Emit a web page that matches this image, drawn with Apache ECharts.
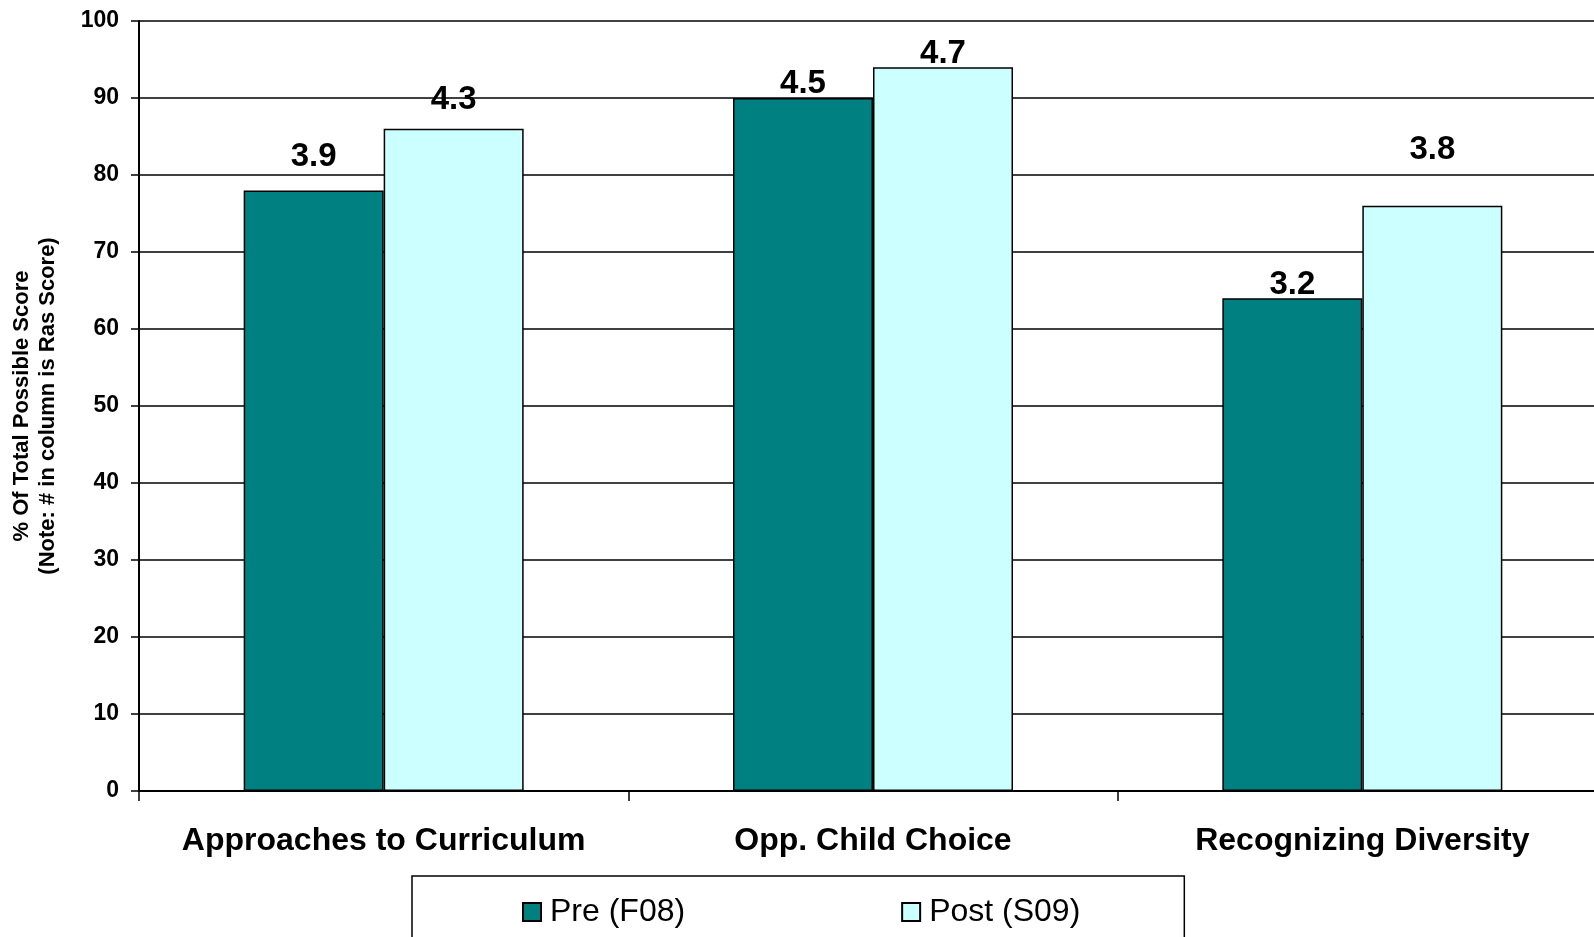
<!DOCTYPE html>
<html>
<head>
<meta charset="utf-8">
<script src="https://cdn.jsdelivr.net/npm/echarts@6/dist/echarts.min.js"></script>
<style>
html,body{margin:0;padding:0;background:#fff;}
#chart{width:1594px;height:937px;}
</style>
</head>
<body>
<div id="chart"></div>
<script>
// ---- data ----
const categories = ['Approaches to Curriculum', 'Opp. Child Choice', 'Recognizing Diversity'];
const seriesNames = ['Pre (F08)', 'Post (S09)'];
const preValues = [78, 90, 64];
const postValues = [86, 94, 76];
const preScores = ['3.9', '4.5', '3.2'];
const postScores = ['4.3', '4.7', '3.8'];
const yAxisTitle = '% Of Total Possible Score\n(Note: # in column is Ras Score)';

// ---- styling ----
const FONT = "'Liberation Sans', Arial, Helvetica, sans-serif";
const preLabelDist = [17, -2, -3];
const postLabelDist = [12, -3, 39];

function buildData(values, scores, dists) {
  return values.map((v, i) => ({
    value: v,
    label: { distance: dists[i], formatter: scores[i] }
  }));
}

const chart = echarts.init(document.getElementById('chart'), null, { renderer: 'canvas' });
const labelStyle = {
  show: true, position: 'top', color: '#000',
  fontFamily: FONT, fontWeight: 'bold', fontSize: 33
};
const option = {
  animation: false,
  backgroundColor: '#fff',
  grid: { left: 139, top: 21, width: 1468, height: 770, outerBoundsMode: 'none', containLabel: false },
  legend: {
    left: 412, top: 876,
    padding: [20, 104, 40, 110],
    borderColor: '#000', borderWidth: 1.5,
    itemGap: 216, itemWidth: 18, itemHeight: 18,
    icon: 'rect',
    textStyle: { fontFamily: FONT, fontSize: 32, color: '#000', padding: [0, 0, 0, 4] },
    data: seriesNames
  },
  xAxis: {
    type: 'category',
    data: categories,
    boundaryGap: true,
    axisLine: { lineStyle: { color: '#000', width: 2 } },
    axisTick: { show: true, length: 10, interval: 0, lineStyle: { color: '#000', width: 1.5 } },
    axisLabel: { margin: 34, interval: 0, color: '#000', fontFamily: FONT, fontWeight: 'bold', fontSize: 32 },
    splitLine: { show: false }
  },
  yAxis: {
    type: 'value',
    min: 0, max: 100, interval: 10,
    name: yAxisTitle,
    nameLocation: 'middle',
    nameGap: 78,
    nameTextStyle: { fontFamily: FONT, fontWeight: 'bold', fontSize: 22, lineHeight: 26, color: '#000', align: 'center' },
    axisLine: { show: true, lineStyle: { color: '#000', width: 2 } },
    axisTick: { show: true, length: 8, lineStyle: { color: '#000', width: 1.5 } },
    axisLabel: { margin: 20, color: '#000', fontFamily: FONT, fontWeight: 'bold', fontSize: 23 },
    splitLine: { show: true, lineStyle: { color: '#000', width: 1.5 } }
  },
  series: [
    {
      name: seriesNames[0], type: 'bar', barWidth: 140, barGap: '0%',
      itemStyle: { color: '#008080', borderColor: '#000', borderWidth: 1.5 },
      label: labelStyle,
      data: buildData(preValues, preScores, preLabelDist)
    },
    {
      name: seriesNames[1], type: 'bar', barWidth: 140, barGap: '0%',
      itemStyle: { color: '#CCFFFF', borderColor: '#000', borderWidth: 1.5 },
      label: labelStyle,
      data: buildData(postValues, postScores, postLabelDist)
    }
  ]
};
chart.setOption(option);
</script>
</body>
</html>
